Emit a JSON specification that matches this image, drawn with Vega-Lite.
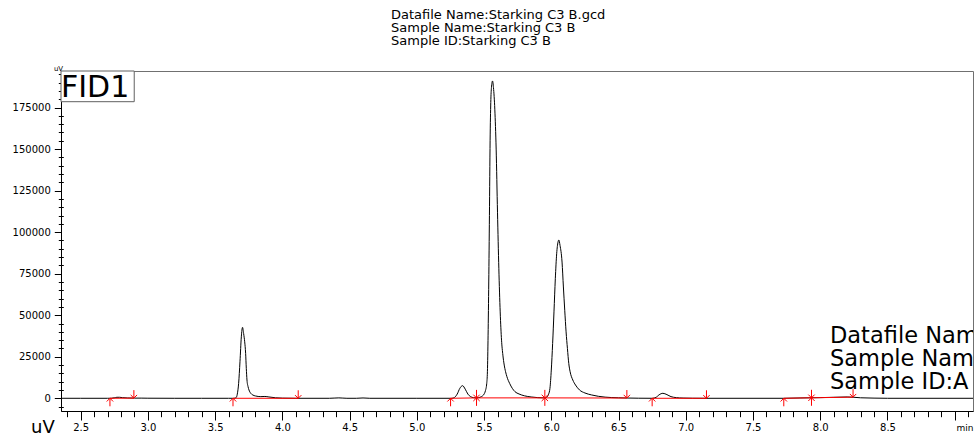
{
  "$schema": "https://vega.github.io/schema/vega-lite/v6.json",
  "width": 912,
  "height": 340,
  "autosize": {"type": "none"},
  "padding": {"left": 61, "top": 71, "right": 3, "bottom": 23},
  "background": "white",
  "config": {"view": {"stroke": "#707070", "strokeWidth": 1}, "font": "DejaVu Sans"},
  "title": {
    "text": ["Datafile Name:Starking C3 B.gcd", "Sample Name:Starking C3 B", "Sample ID:Starking C3 B"],
    "anchor": "start",
    "frame": "group",
    "dx": 330,
    "offset": 16,
    "font": "DejaVu Sans",
    "fontSize": 13,
    "fontWeight": "normal",
    "lineHeight": 13,
    "color": "black"
  },
  "datasets": {
    "trace": [
      {"t": 2.354, "v": 0}, {"t": 2.5, "v": 0}, {"t": 2.7, "v": 0}, {"t": 2.73, "v": 50}, {"t": 2.75, "v": 300},
      {"t": 2.77, "v": 600}, {"t": 2.79, "v": 600}, {"t": 2.81, "v": 400}, {"t": 2.85, "v": 200}, {"t": 2.9, "v": 100},
      {"t": 2.95, "v": 100}, {"t": 3.0, "v": 50}, {"t": 3.2, "v": 0}, {"t": 3.4, "v": 0}, {"t": 3.6, "v": 0},
      {"t": 3.64, "v": 0}, {"t": 3.655, "v": 300}, {"t": 3.665, "v": 2500}, {"t": 3.675, "v": 9000}, {"t": 3.685, "v": 22000},
      {"t": 3.695, "v": 37000}, {"t": 3.704, "v": 42700}, {"t": 3.712, "v": 39000}, {"t": 3.72, "v": 34000}, {"t": 3.727, "v": 27000},
      {"t": 3.732, "v": 18000}, {"t": 3.737, "v": 11000}, {"t": 3.745, "v": 7000}, {"t": 3.752, "v": 5000}, {"t": 3.765, "v": 3000},
      {"t": 3.78, "v": 2000}, {"t": 3.8, "v": 1400}, {"t": 3.84, "v": 1000}, {"t": 3.87, "v": 1100}, {"t": 3.9, "v": 800},
      {"t": 3.95, "v": 300}, {"t": 4.0, "v": 100}, {"t": 4.1, "v": 0}, {"t": 4.35, "v": 0}, {"t": 4.42, "v": 250},
      {"t": 4.48, "v": 0}, {"t": 4.55, "v": 0}, {"t": 4.6, "v": 200}, {"t": 4.65, "v": 0}, {"t": 5.0, "v": 0},
      {"t": 5.26, "v": 0}, {"t": 5.28, "v": 500}, {"t": 5.3, "v": 2500}, {"t": 5.32, "v": 6000}, {"t": 5.34, "v": 7600},
      {"t": 5.36, "v": 5500}, {"t": 5.38, "v": 2500}, {"t": 5.4, "v": 1000}, {"t": 5.42, "v": 400}, {"t": 5.44, "v": 250},
      {"t": 5.46, "v": 400}, {"t": 5.48, "v": 1000}, {"t": 5.5, "v": 2500}, {"t": 5.51, "v": 4500}, {"t": 5.52, "v": 9000},
      {"t": 5.525, "v": 16000}, {"t": 5.53, "v": 38000}, {"t": 5.535, "v": 70000}, {"t": 5.54, "v": 110000}, {"t": 5.545, "v": 155000},
      {"t": 5.55, "v": 178000}, {"t": 5.555, "v": 187000}, {"t": 5.563, "v": 191000}, {"t": 5.57, "v": 187000}, {"t": 5.58, "v": 174000},
      {"t": 5.59, "v": 150000}, {"t": 5.6, "v": 112000}, {"t": 5.61, "v": 78000}, {"t": 5.62, "v": 52000}, {"t": 5.63, "v": 35000},
      {"t": 5.64, "v": 26000}, {"t": 5.65, "v": 20000}, {"t": 5.66, "v": 16000}, {"t": 5.67, "v": 13000}, {"t": 5.69, "v": 9000},
      {"t": 5.71, "v": 6000}, {"t": 5.73, "v": 4000}, {"t": 5.76, "v": 2600}, {"t": 5.8, "v": 1500}, {"t": 5.85, "v": 800},
      {"t": 5.9, "v": 400}, {"t": 5.95, "v": 250}, {"t": 5.965, "v": 600}, {"t": 5.98, "v": 2500}, {"t": 5.99, "v": 6000},
      {"t": 6.0, "v": 17000}, {"t": 6.01, "v": 33000}, {"t": 6.02, "v": 52000}, {"t": 6.03, "v": 72000}, {"t": 6.04, "v": 87000},
      {"t": 6.05, "v": 94000}, {"t": 6.056, "v": 95300}, {"t": 6.065, "v": 92000}, {"t": 6.08, "v": 82000}, {"t": 6.09, "v": 67000},
      {"t": 6.1, "v": 53000}, {"t": 6.11, "v": 40000}, {"t": 6.12, "v": 30000}, {"t": 6.13, "v": 21000}, {"t": 6.14, "v": 16000},
      {"t": 6.16, "v": 11000}, {"t": 6.18, "v": 8000}, {"t": 6.21, "v": 5000}, {"t": 6.25, "v": 3200}, {"t": 6.3, "v": 2000},
      {"t": 6.35, "v": 1200}, {"t": 6.4, "v": 700}, {"t": 6.5, "v": 300}, {"t": 6.57, "v": 150}, {"t": 6.65, "v": 50},
      {"t": 6.75, "v": 0}, {"t": 6.78, "v": 600}, {"t": 6.8, "v": 2000}, {"t": 6.83, "v": 3000}, {"t": 6.86, "v": 2200},
      {"t": 6.89, "v": 1000}, {"t": 6.93, "v": 400}, {"t": 6.98, "v": 150}, {"t": 7.05, "v": 50}, {"t": 7.15, "v": 0},
      {"t": 7.5, "v": 0}, {"t": 7.73, "v": 0}, {"t": 7.85, "v": 200}, {"t": 7.93, "v": 300}, {"t": 8.0, "v": 400},
      {"t": 8.1, "v": 600}, {"t": 8.2, "v": 800}, {"t": 8.25, "v": 600}, {"t": 8.3, "v": 300}, {"t": 8.4, "v": 100},
      {"t": 8.5, "v": 0}, {"t": 9.136, "v": 0}
    ],
    "segs": [
      {"t1": 2.718, "t2": 2.896, "v1": 0, "v2": 100},
      {"t1": 3.633, "t2": 4.118, "v1": 0, "v2": 0},
      {"t1": 5.251, "t2": 5.444, "v1": 0, "v2": 250},
      {"t1": 5.444, "t2": 5.952, "v1": 250, "v2": 250},
      {"t1": 5.952, "t2": 6.562, "v1": 250, "v2": 150},
      {"t1": 6.75, "t2": 7.154, "v1": 0, "v2": 0},
      {"t1": 7.729, "t2": 7.935, "v1": 0, "v2": 300},
      {"t1": 7.935, "t2": 8.244, "v1": 300, "v2": 700}
    ],
    "events": [
      {"t": 2.718, "v": 0, "kind": "start"}, {"t": 2.896, "v": 100, "kind": "end"},
      {"t": 3.633, "v": 0, "kind": "start"}, {"t": 4.118, "v": 0, "kind": "end"},
      {"t": 5.251, "v": 0, "kind": "start"}, {"t": 5.444, "v": 250, "kind": "both"},
      {"t": 5.952, "v": 250, "kind": "both"}, {"t": 6.562, "v": 150, "kind": "end"},
      {"t": 6.75, "v": 0, "kind": "start"}, {"t": 7.154, "v": 0, "kind": "end"},
      {"t": 7.729, "v": 0, "kind": "start"}, {"t": 7.935, "v": 300, "kind": "both"},
      {"t": 8.244, "v": 700, "kind": "end"}
    ],
    "one": [{"label": "FID1"}]
  },
  "resolve": {"axis": {"x": "independent", "y": "independent"}},
  "layer": [
    {
      "data": {"name": "trace"},
      "mark": {"type": "line", "color": "black", "strokeWidth": 1, "interpolate": "monotone", "clip": true},
      "encoding": {
        "x": {
          "field": "t", "type": "quantitative",
          "scale": {"domain": [2.354, 9.136], "nice": false, "zero": false},
          "axis": {
            "orient": "bottom",
            "values": [2.5, 3, 3.5, 4, 4.5, 5, 5.5, 6, 6.5, 7, 7.5, 8, 8.5, 9],
            "labelExpr": "datum.value >= 8.9 ? '' : format(datum.value, '.1f')",
            "tickSize": 9, "tickColor": "black", "tickWidth": 1,
            "domainColor": "black", "domainWidth": 1,
            "labelFont": "DejaVu Sans", "labelFontSize": 10, "labelColor": "black", "labelPadding": 2,
            "labelFlush": false, "labelOverlap": false, "grid": false,
            "title": "min", "titleFont": "DejaVu Sans", "titleFontSize": 9, "titleFontWeight": "normal", "titleColor": "black",
            "titleAlign": "right", "titleX": 912, "titleY": 19, "titleBaseline": "alphabetic", "titleAnchor": null
          }
        },
        "y": {
          "field": "v", "type": "quantitative",
          "scale": {"domain": [-7650, 197000], "nice": false, "zero": false},
          "axis": {
            "orient": "left",
            "values": [0, 25000, 50000, 75000, 100000, 125000, 150000, 175000],
            "format": "d",
            "tickSize": 6.7, "tickColor": "black", "tickWidth": 1,
            "domainColor": "black", "domainWidth": 1,
            "labelFont": "DejaVu Sans", "labelFontSize": 10, "labelColor": "black", "labelPadding": 4,
            "labelFlush": false, "labelOverlap": false, "grid": false,
            "title": "uV", "titleFont": "DejaVu Sans", "titleFontSize": 7, "titleFontWeight": "normal", "titleColor": "black",
            "titleAngle": 0, "titleAlign": "center", "titleX": -3, "titleY": -1, "titleBaseline": "alphabetic", "titleAnchor": null
          }
        }
      }
    },
    {
      "data": {"name": "segs"},
      "mark": {"type": "rule", "color": "#ff0000", "strokeWidth": 1},
      "encoding": {
        "x": {
          "field": "t1", "type": "quantitative",
          "axis": {
            "orient": "bottom",
            "values": [2.4, 2.6, 2.7, 2.8, 2.9, 3.1, 3.2, 3.3, 3.4, 3.6, 3.7, 3.8, 3.9, 4.1, 4.2, 4.3, 4.4, 4.6, 4.7, 4.8, 4.9, 5.1, 5.2, 5.3, 5.4, 5.6, 5.7, 5.8, 5.9, 6.1, 6.2, 6.3, 6.4, 6.6, 6.7, 6.8, 6.9, 7.1, 7.2, 7.3, 7.4, 7.6, 7.7, 7.8, 7.9, 8.1, 8.2, 8.3, 8.4, 8.6, 8.7, 8.8, 8.9, 9.1],
            "labels": false, "domain": false, "grid": false,
            "tickSize": 5.7, "tickColor": "black", "tickWidth": 1,
            "title": "uV", "titleFont": "DejaVu Sans", "titleFontSize": 18, "titleFontWeight": "normal", "titleColor": "black",
            "titleAlign": "left", "titleX": -30.5, "titleY": 21, "titleBaseline": "alphabetic", "titleAnchor": null
          }
        },
        "x2": {"field": "t2"},
        "y": {
          "field": "v1", "type": "quantitative",
          "axis": {
            "orient": "left",
            "values": [-5000, 5000, 10000, 15000, 20000, 30000, 35000, 40000, 45000, 55000, 60000, 65000, 70000, 80000, 85000, 90000, 95000, 105000, 110000, 115000, 120000, 130000, 135000, 140000, 145000, 155000, 160000, 165000, 170000, 180000, 185000, 190000, 195000],
            "labels": false, "domain": false, "grid": false, "offset": -2.3,
            "tickSize": 5, "tickColor": "black", "tickWidth": 1, "title": null
          }
        },
        "y2": {"field": "v2"}
      }
    },
    {
      "data": {"name": "events"},
      "mark": {"type": "point", "filled": false, "color": "#ff0000", "strokeWidth": 1, "opacity": 1, "size": 256},
      "encoding": {
        "x": {"field": "t", "type": "quantitative", "axis": null},
        "y": {"field": "v", "type": "quantitative", "axis": null},
        "shape": {
          "field": "kind", "type": "nominal", "legend": null,
          "scale": {
            "domain": ["start", "end", "both"],
            "range": [
              "M0,0L0,1M-0.4,0.4L0,0L0.4,0.4",
              "M0,0L0,-1M-0.4,-0.4L0,0L0.4,-0.4",
              "M0,-1L0,1M-0.4,0.4L0,0L0.4,0.4M-0.4,-0.4L0,0L0.4,-0.4"
            ]
          }
        }
      }
    },
    {
      "data": {"name": "one"},
      "mark": {
        "type": "text", "clip": true, "align": "left", "baseline": "alphabetic",
        "font": "DejaVu Sans", "fontSize": 22.5, "lineHeight": 23.3, "color": "black",
        "text": ["Datafile Name:Starking C3 B.gcd", "Sample Name:Starking C3 B", "Sample ID:A"]
      },
      "encoding": {"x": {"datum": 8.0725, "axis": null}, "y": {"datum": 33465, "axis": null}}
    },
    {
      "data": {"name": "one"},
      "mark": {"type": "rect", "fill": "white", "stroke": "#606060", "strokeWidth": 1},
      "encoding": {"x": {"datum": 2.354, "axis": null}, "x2": {"datum": 2.8985}, "y": {"datum": 197000, "axis": null}, "y2": {"datum": 178520}}
    },
    {
      "data": {"name": "one"},
      "mark": {"type": "text", "align": "left", "baseline": "alphabetic", "font": "DejaVu Sans", "fontSize": 30, "color": "black"},
      "encoding": {"x": {"datum": 2.354, "axis": null}, "y": {"datum": 181530, "axis": null}, "text": {"field": "label"}}
    }
  ]
}
